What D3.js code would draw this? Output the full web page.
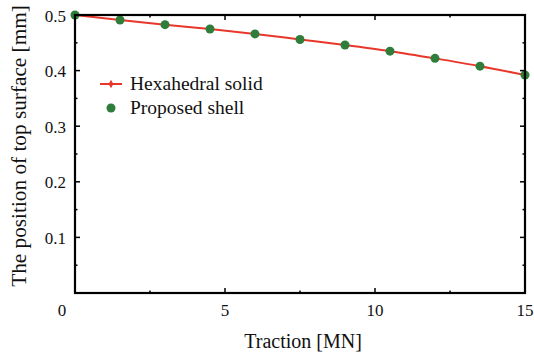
<!DOCTYPE html>
<html>
<head>
<meta charset="utf-8">
<script src="https://cdn.jsdelivr.net/npm/d3@7"></script>
<style>
  body { margin: 0; background: #fff; }
</style>
</head>
<body>
<svg id="chart" width="534" height="356"></svg>
<script>
// traction [MN]
const traction = [0, 1.5, 3, 4.5, 6, 7.5, 9, 10.5, 12, 13.5, 15];
// position of top surface [mm]
const hexaSolid = [0.5, 0.491, 0.4826, 0.4748, 0.466, 0.456, 0.446, 0.435, 0.422, 0.408, 0.392];
const propShell = [0.5, 0.491, 0.4826, 0.4748, 0.466, 0.456, 0.446, 0.435, 0.422, 0.408, 0.392];
const xTicks = [5, 10, 15];
const yTicks = [0.1, 0.2, 0.3, 0.4, 0.5];
const seriesNames = ['Hexahedral solid', 'Proposed shell'];

const serif = "'Liberation Serif', 'Times New Roman', Times, serif";
const margin = { left: 75, right: 9, top: 15, bottom: 63 };
const width = 534, height = 356;
const svg = d3.select('#chart')
  .attr('font-family', serif)
  .attr('fill', '#111');

const x = d3.scaleLinear().domain([0, 15]).range([margin.left, width - margin.right]);
const y = d3.scaleLinear().domain([0, 0.5]).range([height - margin.bottom, margin.top]);

const plot = svg.append('g');

// red line
const line = d3.line()
  .x((d, i) => x(traction[i]))
  .y(d => y(d))
  .curve(d3.curveMonotoneX);

plot.append('path')
  .datum(hexaSolid)
  .attr('d', line)
  .attr('fill', 'none')
  .attr('stroke', '#e8372a')
  .attr('stroke-width', 2);

// green dots
plot.selectAll('.dot')
  .data(propShell)
  .enter().append('circle')
    .attr('class', 'dot')
    .attr('cx', (d, i) => x(traction[i]))
    .attr('cy', d => y(d))
    .attr('r', 4.5)
    .attr('fill', '#2f7d3a');

// frame
const x0 = x.range()[0], x1 = x.range()[1];
const y0 = y.range()[0], y1 = y.range()[1];
svg.append('rect')
  .attr('x', x0).attr('y', y1)
  .attr('width', x1 - x0).attr('height', y0 - y1)
  .attr('fill', 'none')
  .attr('stroke', '#000')
  .attr('stroke-width', 2.2);

// ticks (inward, mirrored)
const ticks = svg.append('g').attr('stroke', '#000').attr('stroke-width', 1.5);
const xMinor = d3.range(2.5, 15, 5);
xTicks.concat(xMinor).forEach(t => {
  const len = xTicks.includes(t) ? 5 : 2.5;
  ticks.append('line').attr('x1', x(t)).attr('x2', x(t)).attr('y1', y0).attr('y2', y0 - len);
  ticks.append('line').attr('x1', x(t)).attr('x2', x(t)).attr('y1', y1).attr('y2', y1 + len);
});
const yMinor = d3.range(0.05, 0.5, 0.1);
yTicks.concat(yMinor).forEach(t => {
  const len = yTicks.includes(t) ? 5 : 2.5;
  ticks.append('line').attr('x1', x0).attr('x2', x0 + len).attr('y1', y(t)).attr('y2', y(t));
  ticks.append('line').attr('x1', x1).attr('x2', x1 - len).attr('y1', y(t)).attr('y2', y(t));
});

// tick labels
svg.selectAll('.xl')
  .data(xTicks)
  .enter().append('text')
    .attr('x', d => x(d))
    .attr('y', y0 + 23)
    .attr('text-anchor', 'middle')
    .attr('font-size', 17)
    .text(d => d);

svg.append('text')
  .attr('x', x0 - 13)
  .attr('y', y0 + 23)
  .attr('text-anchor', 'middle')
  .attr('font-size', 17)
  .text('0');

svg.selectAll('.yl')
  .data(yTicks)
  .enter().append('text')
    .attr('x', x0 - 9)
    .attr('y', d => y(d) + 6.5)
    .attr('text-anchor', 'end')
    .attr('font-size', 17)
    .text(d => d3.format('.1f')(d));

// axis titles
svg.append('text')
  .attr('x', 303)
  .attr('y', 348)
  .attr('text-anchor', 'middle')
  .attr('font-size', 20)
  .text('Traction [MN]');

const yTitle = svg.append('text')
  .attr('transform', 'translate(26,146) rotate(-90)')
  .attr('text-anchor', 'middle')
  .attr('font-size', 20)
  .text('The position of top surface [mm]');
const len = yTitle.node().getComputedTextLength();
yTitle.attr('font-size', 20 * 282 / len);

// legend
const legend = svg.append('g');
legend.append('line')
  .attr('x1', 100).attr('x2', 122).attr('y1', 84).attr('y2', 84)
  .attr('stroke', '#e8372a').attr('stroke-width', 2);
legend.append('path')
  .attr('d', d3.symbol(d3.symbolDiamond, 20)())
  .attr('transform', 'translate(111,84)')
  .attr('fill', '#e8372a');
legend.append('circle')
  .attr('cx', 111).attr('cy', 108).attr('r', 4.5)
  .attr('fill', '#2f7d3a');
legend.selectAll('.lt')
  .data(seriesNames)
  .enter().append('text')
    .attr('x', 130)
    .attr('y', (d, i) => 90 + i * 24)
    .attr('font-size', 19.5)
    .text(d => d);
</script>
</body>
</html>
